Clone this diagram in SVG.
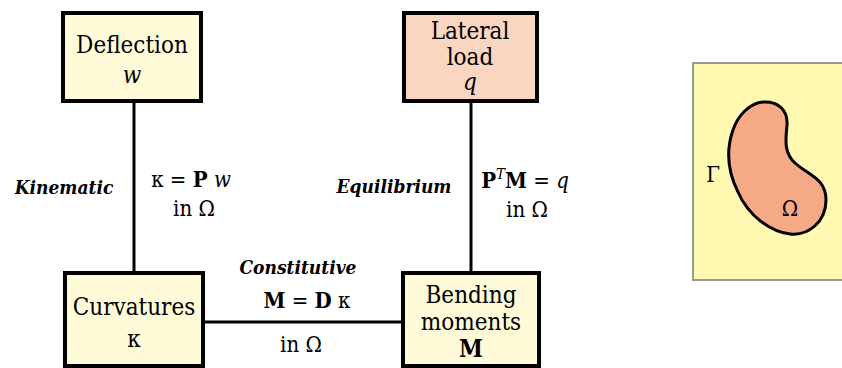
<svg xmlns="http://www.w3.org/2000/svg" width="842" height="368" viewBox="0 0 842 368">
<style>
text{font-family:"DejaVu Serif","Liberation Serif",serif;font-stretch:condensed;fill:#000}
.box{stroke:#000;stroke-width:4}
.y{fill:#FFFBD9}
.p{fill:#FAD6C1}
.t{font-size:24px;text-anchor:middle}
.lbl{font-size:19px;font-weight:bold;font-style:italic;text-anchor:middle}
.eq{font-size:22px;text-anchor:middle}
.b{font-weight:bold}
.i{font-style:italic}
.c{stroke:#000;stroke-width:3;fill:none}
</style>
<rect width="842" height="368" fill="#fff"/>
<g id="connectors">
<line class="c" x1="134" y1="102" x2="134" y2="272"/>
<line class="c" x1="471" y1="102" x2="471" y2="272"/>
<line class="c" x1="203" y1="322" x2="402" y2="322"/>
</g>
<g id="deflection">
<rect class="box y" x="63" y="13" width="138" height="88"/>
<text class="t" x="132" y="53">Deflection</text>
<text class="t i" x="132" y="83">w</text>
</g>
<g id="lateral-load">
<rect class="box p" x="404" y="13" width="133" height="88"/>
<text class="t" x="470" y="39">Lateral</text>
<text class="t" x="470" y="65">load</text>
<text class="t i" x="470" y="90">q</text>
</g>
<g id="curvatures">
<rect class="box y" x="65" y="273" width="138" height="93"/>
<text class="t" x="134" y="315">Curvatures</text>
<text class="t" x="134" y="347">κ</text>
</g>
<g id="bending-moments">
<rect class="box y" x="403" y="273" width="136" height="93"/>
<text class="t" x="471" y="303">Bending</text>
<text class="t" x="471" y="330">moments</text>
<text class="t b" x="471" y="357">M</text>
</g>
<g id="labels">
<text class="lbl" x="64" y="194">Kinematic</text>
<text class="eq" x="191" y="187">κ = <tspan class="b">P</tspan> <tspan class="i">w</tspan></text>
<text class="eq" x="194" y="216">in Ω</text>
<text class="lbl" x="394" y="193">Equilibrium</text>
<text class="eq" x="525" y="188"><tspan class="b">P</tspan><tspan class="i" font-size="15" dy="-9">T</tspan><tspan class="b" dy="9">M</tspan> = <tspan class="i">q</tspan></text>
<text class="eq" x="527" y="217">in Ω</text>
<text class="lbl" x="298" y="274">Constitutive</text>
<text class="eq" x="307" y="308"><tspan class="b">M</tspan> = <tspan class="b">D</tspan> κ</text>
<text class="eq" x="301" y="352">in Ω</text>
</g>
<g id="domain">
<rect x="693" y="63" width="160" height="217" fill="#FFF8B0" stroke="#999" stroke-width="2"/>
<path d="M763,102 C778,101 788,110 787,125 C786,138 783,152 795,163 C808,175 826,178 826,200 C826,222 808,236 790,234 C770,232 748,215 738,192 C728,172 726,150 733,130 C738,115 750,103 763,102 Z" fill="#F5A985" stroke="#000" stroke-width="3"/>
<text class="eq" x="713" y="182">Γ</text>
<text class="eq" x="790" y="216">Ω</text>
</g>
</svg>
